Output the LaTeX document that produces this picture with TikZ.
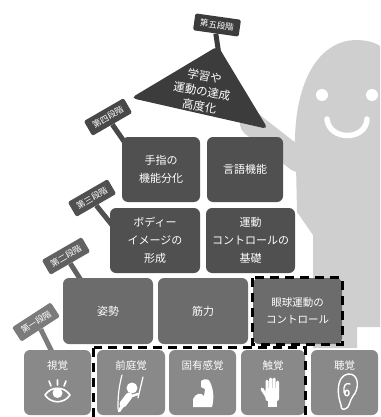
\documentclass[tikz,border=0pt]{standalone}
\usepackage{fontspec}
\setmainfont{Noto Sans CJK JP}
\definecolor{figgray}{HTML}{CFCFCF}
\definecolor{lvlfive}{HTML}{3C3C3C}
\definecolor{lvlfour}{HTML}{505050}
\definecolor{lvltwo}{HTML}{6C6C6C}
\definecolor{lvlone}{HTML}{898989}

\begin{document}
\begin{tikzpicture}[x=1pt,y=-1pt,
  block/.style={rounded corners=6pt, text=white, align=center, inner sep=0pt,
    font=\fontsize{11}{18}\selectfont},
  sign/.style={rounded corners=1.5pt, text=white, inner sep=0pt,
    minimum width=46pt, minimum height=17pt, font=\fontsize{8.5}{9}\selectfont},
  post/.style={line width=5pt},
  icon/.style={white, line width=1.6pt, line cap=round, line join=round},
  group/.style={black, line width=3pt, dash pattern=on 9pt off 6pt}]
  \useasboundingbox (0,0) rectangle (380,417);

  % the little figure behind the pyramid
  \fill[figgray] (296,165) .. controls (290,100) and (310,42) .. (355,40)
    .. controls (368,40) and (376,43) .. (380,46) -- (380,327) -- (357,327)
    -- (357,348) -- (313,348) -- (313,235) -- (297,212) -- cycle;
  \draw[figgray, line width=24pt, line cap=round] (252,124) -- (298,160);
  \fill[white] (322,95) circle (6) (372,95) circle (6);
  \draw[white, line width=5.5pt, line cap=round]
    (327,119) .. controls (329,141) and (366,141) .. (367,119);

  % signposts
  \node[sign, fill=lvlfive, rotate=-8] (s5) at (217,25) {第五段階};
  \node[sign, fill=lvlfour!90!black, rotate=30] (s4) at (108,117) {第四段階};
  \node[sign, fill=lvlfour, rotate=30] (s3) at (92,198) {第三段階};
  \node[sign, fill=lvltwo!90!black, rotate=30] (s2) at (66,256) {第二段階};
  \node[sign, fill=lvlone!90!black, rotate=33] (s1) at (36,322) {第一段階};
  \coordinate (p5) at (219,55);
  \coordinate (p4) at (130,150);
  \coordinate (p3) at (116,230);
  \coordinate (p2) at (84,285);
  \coordinate (p1) at (54,356);
  \draw[post, lvlfive] (s5.south) -- (p5);
  \draw[post, lvlfour!90!black] (s4.south) -- (p4);
  \draw[post, lvlfour] (s3.south) -- (p3);
  \draw[post, lvltwo!90!black] (s2.south) -- (p2);
  \draw[post, lvlone!90!black] (s1.south) -- (p1);

  % level five
  \fill[lvlfive, rounded corners=5pt] (218,46) -- (268,129) -- (131,98) -- cycle;
  \node[block, font=\fontsize{11.5}{15}\selectfont, rotate=-10] (goal) at (202,91)
    {学習や\\運動の達成\\高度化};

  % levels four and three
  \node[block, fill=lvlfour, minimum width=78pt, minimum height=65pt] (finger) at (161,169.5) {手指の\\機能分化};
  \node[block, fill=lvlfour, minimum width=76pt, minimum height=65pt] (speech) at (245,169.5) {言語機能};
  \node[block, fill=lvlfour, minimum width=90pt, minimum height=65pt] (bodyimg) at (155,240.5) {ボディー\\イメージの\\形成};
  \node[block, fill=lvlfour, minimum width=89pt, minimum height=65pt] (motor) at (250.5,240.5) {運動\\コントロールの\\基礎};

  % level two
  \node[block, fill=lvltwo, minimum width=90pt, minimum height=66pt] (posture) at (108,311) {姿勢};
  \node[block, fill=lvltwo, minimum width=90pt, minimum height=66pt] (muscle) at (203,311) {筋力};
  \node[block, fill=lvltwo, minimum width=89pt, minimum height=66pt, font=\fontsize{10.5}{17}\selectfont] (eyemove) at (297.5,311) {眼球運動の\\コントロール};

  % level one: the senses
  \node[block, fill=lvlone, minimum width=67pt, minimum height=65pt] (vision) at (57.5,382.5) {};
  \node[block, fill=lvlone, minimum width=68pt, minimum height=65pt] (vestib) at (131,382.5) {};
  \node[block, fill=lvlone, minimum width=67pt, minimum height=65pt] (propr) at (202.5,382.5) {};
  \node[block, fill=lvlone, minimum width=64pt, minimum height=65pt] (touch) at (273,382.5) {};
  \node[block, fill=lvlone, minimum width=67pt, minimum height=65pt] (hearing) at (344.5,382.5) {};
  \foreach \s/\t in {vision/視覚, vestib/前庭覚, propr/固有感覚, touch/触覚, hearing/聴覚}
    \node[text=white, font=\fontsize{10.5}{12}\selectfont] (\s-label) at ([yshift=-16pt]\s.north) {\t};

  % eye
  \draw[icon] (45,395) .. controls (51,386) and (64,386) .. (70,395)
    .. controls (64,404) and (51,404) .. cycle;
  \fill[white] (57.5,393) circle (5);
  \draw[icon] (51,386) -- (49,381) (57.5,385) -- (57.5,380) (64,386) -- (66,381);
  % swing
  \draw[icon, line width=1.2pt] (122,375) .. controls (118,390) and (118,400) .. (118,409);
  \draw[icon, line width=1.2pt] (143,377) -- (138,398);
  \fill[white] (132,388) circle (5.5);
  \draw[icon, line width=7pt] (129,396) -- (123,404);
  \draw[icon, line width=2.5pt] (129,397) -- (138,394);
  \draw[icon, line width=3pt] (123,405) -- (119,411);
  % flexed arm
  \fill[white] (193,407) -- (193,399) .. controls (196,393) and (201,392) .. (204,396)
    -- (205,389) -- (201,387) -- (201,381) .. controls (205,378) and (209,379) .. (210,382)
    .. controls (214,390) and (214,400) .. (212,407) -- cycle;
  % hand
  \draw[icon, line width=3pt] (267,391) -- (267,381) (270.5,391) -- (270.5,379)
    (274,391) -- (274,379) (277.5,391) -- (277.5,382) (267,397) -- (262,389);
  \fill[white, rounded corners=2pt] (265.5,388) rectangle (279,401);
  \fill[white] (268,400) rectangle (277,407);
  % ear
  \draw[icon, line width=1.4pt] (341,405) .. controls (337,395) and (336,376) .. (348,374)
    .. controls (360,373) and (359,390) .. (353,396)
    .. controls (349,401) and (350,408) .. (345,409)
    .. controls (342,410) and (341,408) .. (341,405);
  \draw[icon, line width=1.4pt] (350,384) .. controls (346,382) and (343,386) .. (344,392)
    .. controls (345,398) and (350,396) .. (349,392) .. controls (348,389) and (345,390) .. (345,393);

  % the groups that belong together
  \draw[group] (eyemove.north west) rectangle (eyemove.south east);
  \draw[group] ([xshift=-3pt,yshift=2pt]vestib.north west) rectangle ([yshift=-3pt]touch.south east);
\end{tikzpicture}
\end{document}
